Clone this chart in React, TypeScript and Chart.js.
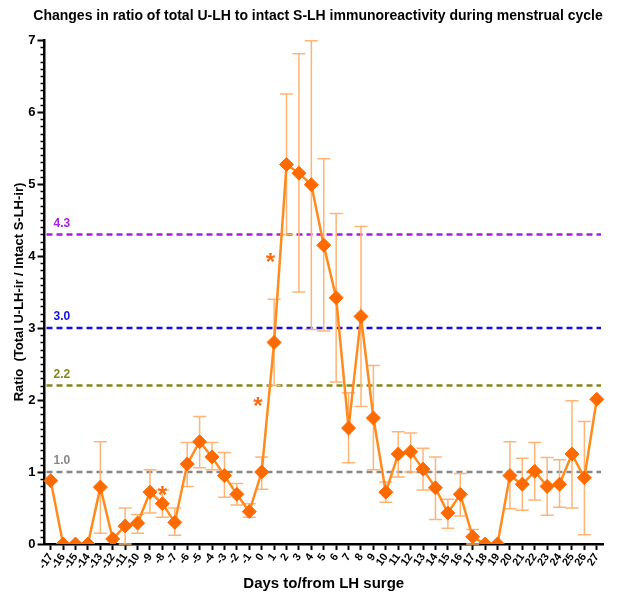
import { useEffect, useRef } from 'react';
import { Chart, registerables } from 'chart.js';

Chart.register(...registerables);

const days = ['-17','-16','-15','-14','-13','-12','-11','-10','-9','-8','-7','-6','-5','-4','-3','-2','-1','0','1','2','3','4','5','6','7','8','9','10','11','12','13','14','15','16','17','18','19','20','21','22','23','24','25','26','27'];

const ratio = [0.88, 0, 0, 0, 0.79, 0.07, 0.25, 0.29, 0.72, 0.56, 0.30, 1.11, 1.42, 1.21, 0.95, 0.69, 0.45, 1.0, 2.8, 5.27, 5.15, 4.99, 4.15, 3.42, 1.61, 3.16, 1.75, 0.72, 1.25, 1.28, 1.04, 0.78, 0.43, 0.69, 0.10, 0, 0, 0.95, 0.83, 1.01, 0.80, 0.83, 1.25, 0.92, 2.01];

const errUpper: (number | null)[] = [null, null, null, null, 1.42, null, 0.50, 0.41, 1.03, 0.75, 0.50, 1.41, 1.77, 1.41, 1.27, 0.84, 0.56, 1.21, 3.40, 6.25, 6.81, 6.99, 5.35, 4.59, 2.10, 4.41, 2.48, 0.86, 1.56, 1.54, 1.33, 1.21, 0.62, 0.98, 0.20, null, null, 1.42, 1.19, 1.41, 1.20, 1.17, 1.99, 1.70, null];

const errLower: (number | null)[] = [null, null, null, null, 0.15, null, 0.0, 0.15, 0.43, 0.37, 0.12, 0.80, 1.06, 1.03, 0.65, 0.54, 0.37, 0.76, 2.20, 4.30, 3.50, 2.98, 2.96, 2.25, 1.13, 1.91, 1.03, 0.58, 0.93, 1.00, 0.75, 0.34, 0.22, 0.39, 0.0, null, null, 0.49, 0.47, 0.61, 0.40, 0.51, 0.50, 0.13, null];

const refValues = [4.3, 3.0, 2.2, 1.0];
const refLabels = ['4.3', '3.0', '2.2', '1.0'];
const refColors = ['#a61ee6', '#1010e0', '#85851a', '#888888'];

// asterisk annotations: category index position (fractional) and value
const starIndex = [17.7, 16.7, 9.0];
const starValue = [3.97, 1.97, 0.73];

const yTicks = [0, 1, 2, 3, 4, 5, 6, 7];

const titleText = 'Changes in ratio of total U-LH to intact S-LH immunoreactivity during menstrual cycle';

const FONT = "'Liberation Sans', Arial, sans-serif";

const decorPlugin = {
  id: 'decor',
  beforeDatasetsDraw(chart: any) {
    const { ctx, chartArea, scales } = chart;
    const xs = scales.x;
    const ys = scales.y;
    ctx.save();
    // reference lines
    refValues.forEach((v, i) => {
      const y = ys.getPixelForValue(v);
      ctx.strokeStyle = refColors[i];
      ctx.lineWidth = 2.5;
      ctx.setLineDash([6, 4]);
      ctx.beginPath();
      ctx.moveTo(chartArea.left + 2, y);
      ctx.lineTo(chartArea.right - 2, y);
      ctx.stroke();
      ctx.setLineDash([]);
      ctx.fillStyle = refColors[i];
      ctx.font = `bold 12px ${FONT}`;
      ctx.textAlign = 'left';
      ctx.textBaseline = 'bottom';
      ctx.fillText(refLabels[i], chartArea.left + 9, y - 5);
    });
    // error bars
    ctx.strokeStyle = '#ffb474';
    ctx.lineWidth = 1.5;
    for (let i = 0; i < ratio.length; i++) {
      const up = errUpper[i];
      const lo = errLower[i];
      if (up === null || lo === null) continue;
      const x = xs.getPixelForValue(i);
      const y1 = ys.getPixelForValue(up);
      const y2 = ys.getPixelForValue(lo);
      ctx.beginPath();
      ctx.moveTo(x, y1);
      ctx.lineTo(x, y2);
      ctx.moveTo(x - 6.5, y1);
      ctx.lineTo(x + 6.5, y1);
      ctx.moveTo(x - 6.5, y2);
      ctx.lineTo(x + 6.5, y2);
      ctx.stroke();
    }
    ctx.restore();
  },
  afterDatasetsDraw(chart: any) {
    const { ctx, scales } = chart;
    const xs = scales.x;
    const ys = scales.y;
    ctx.save();
    ctx.fillStyle = '#ff6a10';
    ctx.font = `bold 24px ${FONT}`;
    ctx.textAlign = 'center';
    ctx.textBaseline = 'middle';
    for (let i = 0; i < starIndex.length; i++) {
      const x = xs.getPixelForValue(starIndex[i]);
      const y = ys.getPixelForValue(starValue[i]);
      ctx.fillText('*', x, y + 5);
    }
    ctx.restore();
  },
  afterDraw(chart: any) {
    const { ctx, chartArea, scales } = chart;
    const ys = scales.y;
    ctx.save();
    ctx.strokeStyle = '#000';
    ctx.lineWidth = 1.5;
    for (let k = 0; k < 70; k++) {
      if (k % 10 === 0) continue;
      const y = Math.round(ys.getPixelForValue(k / 10)) + 0.5;
      ctx.beginPath();
      ctx.moveTo(chartArea.left - 4, y);
      ctx.lineTo(chartArea.left, y);
      ctx.stroke();
    }
    // title
    ctx.fillStyle = '#000';
    ctx.font = `bold 14px ${FONT}`;
    ctx.textAlign = 'center';
    ctx.textBaseline = 'middle';
    ctx.fillText(titleText, 318, 16);
    ctx.restore();
  },
};

export default function App() {
  const ref = useRef<HTMLCanvasElement | null>(null);
  useEffect(() => {
    if (!ref.current) return;
    const chart = new Chart(ref.current, {
      type: 'line',
      data: {
        labels: days,
        datasets: [
          {
            data: ratio,
            borderColor: '#ff8a1e',
            borderWidth: 2.5,
            pointStyle: 'rectRot',
            pointRadius: 7,
            pointBackgroundColor: '#ff6a00',
            pointBorderColor: '#ff6a00',
            pointBorderWidth: 1,
            tension: 0,
          },
        ],
      },
      options: {
        responsive: false,
        animation: false,
        layout: { padding: { left: 0, right: 15, top: 40, bottom: 0 } },
        plugins: {
          legend: { display: false },
          tooltip: { enabled: false },
          title: { display: false },
        },
        scales: {
          x: {
            type: 'category',
            offset: true,
            afterFit: (s: any) => { s.height = 54; },
            grid: { drawOnChartArea: false, drawTicks: true, tickLength: 6, tickWidth: 2, tickColor: '#000', offset: false },
            border: { display: true, color: '#000', width: 2.5 },
            ticks: {
              autoSkip: false,
              minRotation: 55,
              maxRotation: 55,
              padding: 1,
              color: '#000',
              font: { family: FONT, size: 11, weight: 'bold' },
            },
            title: {
              display: true,
              text: 'Days to/from LH surge',
              color: '#000',
              font: { family: FONT, size: 15, weight: 'bold' },
              padding: { top: 0, bottom: 5 },
            },
          },
          y: {
            type: 'linear',
            min: 0,
            max: 7,
            afterFit: (s: any) => { s.width = 44.5; },
            afterBuildTicks: (s: any) => { s.ticks = yTicks.map((v) => ({ value: v })); },
            grid: { drawOnChartArea: false, drawTicks: true, tickLength: 7, tickWidth: 2, tickColor: '#000' },
            border: { display: true, color: '#000', width: 2.5 },
            ticks: {
              padding: 2,
              color: '#000',
              font: { family: FONT, size: 13, weight: 'bold' },
            },
            title: {
              display: true,
              text: 'Ratio  (Total U-LH-ir / Intact S-LH-ir)',
              color: '#000',
              font: { family: FONT, size: 13, weight: 'bold' },
              padding: { top: 12, bottom: 0 },
            },
          },
        },
      },
      plugins: [decorPlugin],
    });
    return () => chart.destroy();
  }, []);
  return (
    <div style={{ position: 'fixed', left: 0, top: 0, width: 618, height: 598, background: '#fff' }}>
      <canvas ref={ref} width={618} height={598} style={{ display: 'block' }} />
    </div>
  );
}
